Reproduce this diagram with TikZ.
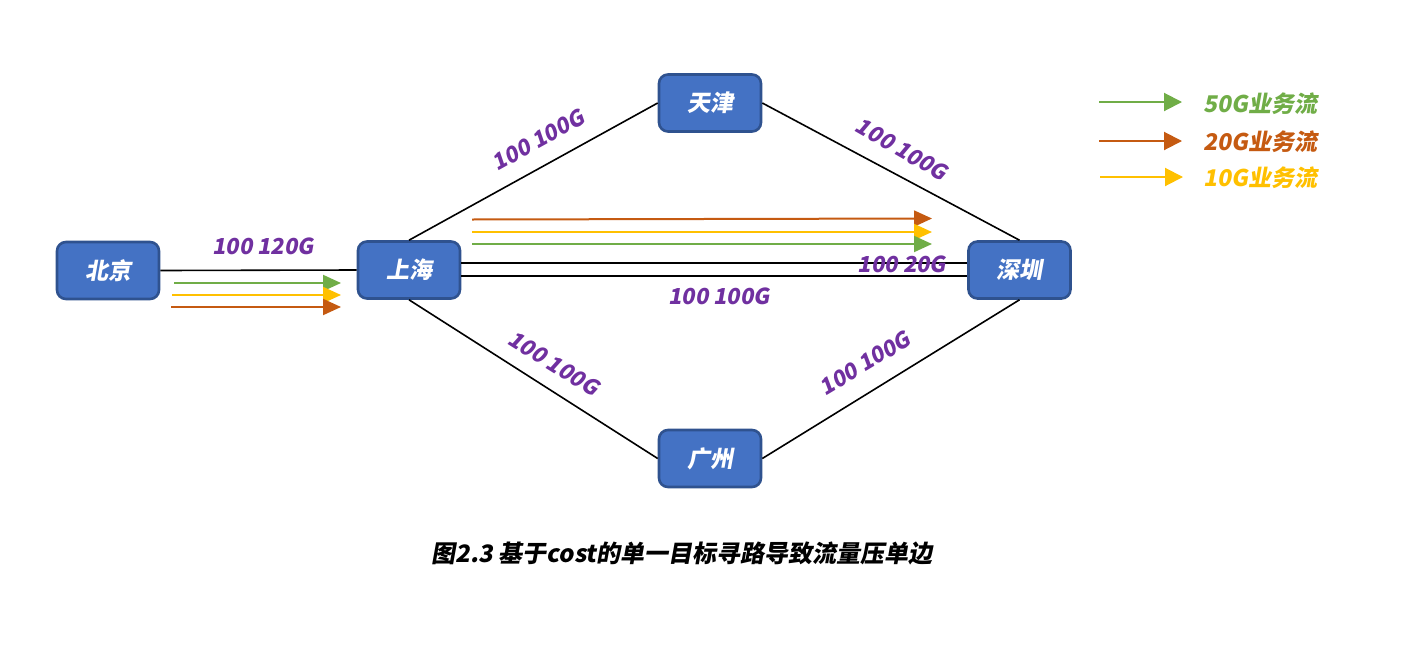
\documentclass[tikz,border=0pt]{standalone}
\usepackage{fontspec}
\setmainfont{Noto Sans CJK SC}[FakeSlant=0.18]
\usetikzlibrary{arrows.meta,calc}
\definecolor{nodefill}{HTML}{4472C4}
\definecolor{nodeedge}{HTML}{2F528F}
\definecolor{lblpurple}{HTML}{7030A0}
\definecolor{fgreen}{HTML}{70AD47}
\definecolor{forange}{HTML}{C55A11}
\definecolor{fyellow}{HTML}{FFC000}
\tikzset{
  city/.style={draw=nodeedge, line width=1.3pt, fill=nodefill, rounded corners=4.5pt,
    minimum width=51pt, minimum height=28.5pt, inner sep=0pt, text=white,
    font=\bfseries\fontsize{11.5}{13}\selectfont},
  link/.style={draw=black, line width=0.8pt},
  lbl/.style={text=lblpurple, font=\bfseries\fontsize{11}{13}\selectfont, inner sep=0pt},
  flow/.style={line width=1pt, -{Triangle[length=9pt,width=8pt]}},
  legflow/.style={line width=1pt, -{Triangle[length=9pt,width=9pt]}},
  legtxt/.style={font=\bfseries\fontsize{11.5}{13}\selectfont, anchor=west, inner sep=0pt},
}
\begin{document}
\begin{tikzpicture}[x=0.5pt,y=-0.5pt]
\useasboundingbox (0,0) rectangle (1406,664);
% nodes
\node[city] (bj) at (108,270.5) {北京};
\node[city] (sh) at (409,270) {上海};
\node[city] (tj) at (710,103) {天津};
\node[city] (sz) at (1019.5,270) {深圳};
\node[city] (gz) at (710,458.5) {广州};
% links
\draw[link] (bj.east) -- (sh.west);
\draw[link] (sh.north) -- (tj.west);
\draw[link] (tj.east) -- (sz.north);
\draw[link] (sh.south) -- (gz.west);
\draw[link] (gz.east) -- (sz.south);
\draw[link] ([yshift=3.5pt]sh.east) -- ([yshift=3.5pt]sz.west);
\draw[link] ([yshift=-3pt]sh.east) -- ([yshift=-3pt]sz.west);
% link labels
\node[lbl] (l1) at (263,246) {100 120G};
\node[lbl, rotate=29] (l2) at (538,140) {100 100G};
\node[lbl, rotate=-30] (l3) at (902,149) {100 100G};
\node[lbl, rotate=-32] (l4) at (554,363) {100 100G};
\node[lbl, rotate=31] (l5) at (865,363) {100 100G};
\node[lbl] (l6) at (902,264) {100 20G};
\node[lbl] (l7) at (719,296) {100 100G};
% flows Beijing -> Shanghai
\coordinate (a1s) at (174,283); \coordinate (a1e) at (341,283);
\coordinate (a2s) at (172,295); \coordinate (a2e) at (341,295);
\coordinate (a3s) at (171,307); \coordinate (a3e) at (341,307);
\draw[flow, fgreen] (a1s) -- (a1e);
\draw[flow, fyellow] (a2s) -- (a2e);
\draw[flow, forange] (a3s) -- (a3e);
% flows Shanghai -> Shenzhen
\coordinate (b1s) at (472,219.5); \coordinate (b1e) at (932,218.5);
\coordinate (b2s) at (472,232); \coordinate (b2e) at (932,232);
\coordinate (b3s) at (472,244); \coordinate (b3e) at (932,244);
\draw[flow, forange] (b1s) -- (b1e);
\draw[flow, fyellow] (b2s) -- (b2e);
\draw[flow, fgreen] (b3s) -- (b3e);
% legend
\coordinate (g1s) at (1099,102); \coordinate (g1e) at (1182,102);
\coordinate (g2s) at (1099,141); \coordinate (g2e) at (1182,141);
\coordinate (g3s) at (1100,177); \coordinate (g3e) at (1183,177);
\draw[legflow, fgreen] (g1s) -- (g1e);
\draw[legflow, forange] (g2s) -- (g2e);
\draw[legflow, fyellow] (g3s) -- (g3e);
\node[legtxt, text=fgreen] (t1) at (1203,104) {50G业务流};
\node[legtxt, text=forange] (t2) at (1203,142) {20G业务流};
\node[legtxt, text=fyellow] (t3) at (1203,178) {10G业务流};
% caption
\node[font=\bfseries\fontsize{12}{14}\selectfont, inner sep=0pt] (cap) at (682,553) {图2.3 基于cost的单一目标寻路导致流量压单边};
\end{tikzpicture}
\end{document}
